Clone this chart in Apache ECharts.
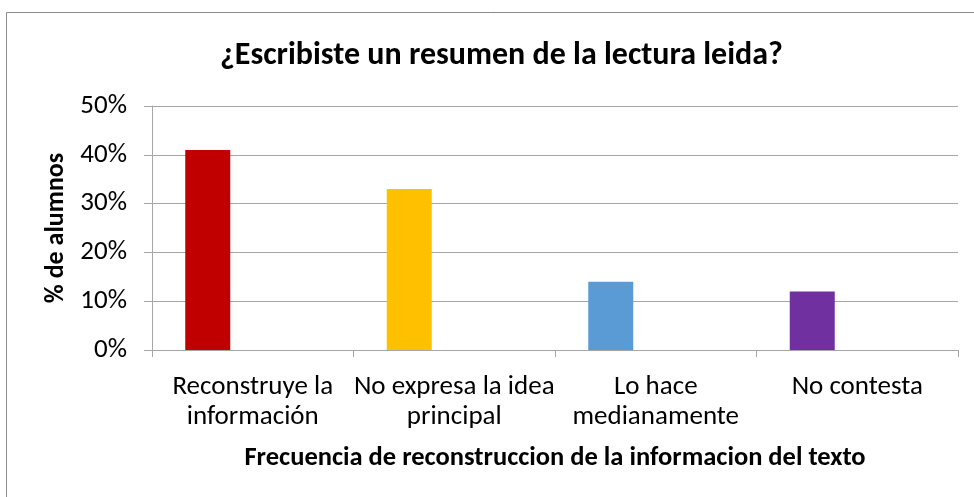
<!DOCTYPE html>
<html>
<head>
    <meta charset="UTF-8">
    <title>¿Escribiste un resumen de la lectura leida?</title>
    <script src="https://cdn.jsdelivr.net/npm/echarts@6/dist/echarts.min.js"></script>
    <style>
        html, body { margin: 0; padding: 0; background: #fff; }
        #chart { width: 974px; height: 497px; }
    </style>
</head>
<body>
<div id="chart"></div>
<script>
    var categories = ['Reconstruye la\ninformación', 'No expresa la idea\nprincipal', 'Lo hace\nmedianamente', 'No contesta'];
    var values = [41, 33, 14, 12];
    var barColors = ['#C00000', '#FFC000', '#5B9BD5', '#7030A0'];
    var yTicks = [0, 10, 20, 30, 40, 50];

    var font = 'Carlito, "Liberation Sans Narrow", "Open Sans", sans-serif';

    var barData = values.map(function (v, i) {
        return { value: v, itemStyle: { color: barColors[i] } };
    });
    var empty = values.map(function () { return '-'; });

    var option = {
        animation: false,
        backgroundColor: '#fff',
        title: {
            text: '¿Escribiste un resumen de la lectura leida?',
            left: 215,
            top: 35,
            textStyle: { fontFamily: font, fontSize: 32, fontWeight: 'bold', color: '#000' }
        },
        graphic: [{
            type: 'rect',
            shape: { x: 6.5, y: 12.5, width: 1000, height: 600 },
            style: { fill: null, stroke: '#8c8c8c', lineWidth: 1 },
            silent: true
        }],
        grid: { left: 152, right: 16, top: 106, bottom: 147 },
        xAxis: {
            type: 'category',
            data: categories,
            name: 'Frecuencia de reconstruccion de la informacion del texto',
            nameLocation: 'middle',
            nameGap: 95,
            nameTextStyle: { fontFamily: font, fontSize: 26.5, fontWeight: 'bold', color: '#000' },
            axisLine: { lineStyle: { color: '#a6a6a6', width: 1 } },
            axisTick: { show: true, length: 7, lineStyle: { color: '#a6a6a6' } },
            axisLabel: { fontFamily: font, fontSize: 27, color: '#000', lineHeight: 30, margin: 22, interval: 0 },
            splitLine: { show: false }
        },
        yAxis: {
            type: 'value',
            min: yTicks[0],
            max: yTicks[yTicks.length - 1],
            interval: 10,
            name: '% de alumnos',
            nameLocation: 'middle',
            nameGap: 79,
            nameRotate: 90,
            nameTextStyle: { fontFamily: font, fontSize: 26, fontWeight: 'bold', color: '#000' },
            axisLine: { show: true, lineStyle: { color: '#a6a6a6', width: 1 } },
            axisTick: { show: true, length: 8, inside: false, lineStyle: { color: '#a6a6a6' } },
            axisLabel: { fontFamily: font, fontSize: 27, color: '#000', margin: 25, formatter: '{value}%' },
            splitLine: { lineStyle: { color: '#a6a6a6', width: 1 } }
        },
        series: [
            { type: 'bar', data: barData, barWidth: 45, barGap: '0%' },
            { type: 'bar', data: empty, barWidth: 45, barGap: '0%' },
            { type: 'bar', data: empty, barWidth: 45, barGap: '0%' }
        ]
    };

    var myChart = echarts.init(document.getElementById('chart'));
    myChart.setOption(option);
</script>
</body>
</html>
